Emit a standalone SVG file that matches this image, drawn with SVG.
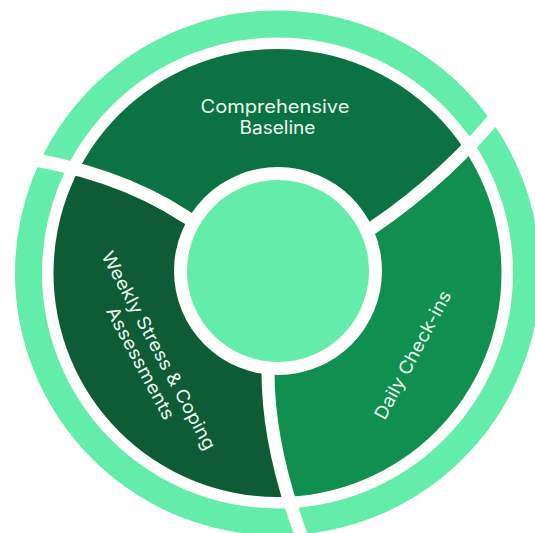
<svg xmlns="http://www.w3.org/2000/svg" width="535" height="533" viewBox="0 0 535 533">
  <defs>
    <style>
      .ring { fill: none; stroke: #63ECAA; stroke-width: 27; }
      .divider { fill: none; stroke: #FFFFFF; stroke-width: 13; stroke-linecap: butt; }
      .label { font-family: "Inter", "Open Sans", "Liberation Sans", sans-serif; font-size: 18px; font-weight: 400; fill: #EAF7EF; text-anchor: middle; }
    </style>
    <clipPath id="band">
      <circle cx="277.5" cy="273" r="224"/>
    </clipPath>
  </defs>

  <rect width="535" height="533" fill="#FFFFFF"/>

  <!-- outer light ring -->
  <g id="outer-ring">
    <circle class="ring" cx="277.5" cy="273" r="249"/>
  </g>

  <!-- the three segments of the cycle -->
  <g clip-path="url(#band)">
    <g id="seg-baseline">
      <path fill="#0C7243" d="M277,272 L186,217 Q115,170 10,156 L-20,-40 L560,-40 L505,105 Q450,175 372,228 Z"/>
    </g>
    <g id="seg-daily">
      <path fill="#108F50" d="M277,272 L372,228 Q450,175 505,105 L600,100 L600,600 L305,545 Q268,450 268,372 Z"/>
    </g>
    <g id="seg-weekly">
      <path fill="#0F5B36" d="M277,272 L268,372 Q268,450 305,545 L-40,600 L-40,156 L10,156 Q115,170 186,217 Z"/>
    </g>
  </g>

  <!-- curved white dividers between the segments -->
  <g id="dividers">
    <path class="divider" d="M277,272 L186,217 Q115,170 10,156"/>
    <path class="divider" d="M277,272 L372,228 Q450,175 505,105"/>
    <path class="divider" d="M277,272 L268,372 Q268,450 305,545"/>
  </g>

  <!-- central hub -->
  <g id="center-hub">
    <circle cx="278" cy="271" r="104" fill="#FFFFFF"/>
    <circle cx="278" cy="271" r="91" fill="#63ECAA"/>
  </g>

  <!-- segment labels -->
  <g id="labels">
    <text class="label">
      <tspan x="277.5" y="113" textLength="149" lengthAdjust="spacingAndGlyphs">Comprehensive</tspan>
      <tspan x="277.5" y="134" textLength="76" lengthAdjust="spacingAndGlyphs">Baseline</tspan>
    </text>
    <text class="label" transform="translate(150,358) rotate(62)">
      <tspan x="0" y="-5" textLength="222" lengthAdjust="spacingAndGlyphs">Weekly Stress &amp; Coping</tspan>
      <tspan x="0" y="17" textLength="125" lengthAdjust="spacingAndGlyphs">Assessments</tspan>
    </text>
    <text class="label" transform="translate(413,355) rotate(-62)">
      <tspan x="0" y="6" textLength="143" lengthAdjust="spacingAndGlyphs">Daily Check-ins</tspan>
    </text>
  </g>
</svg>
